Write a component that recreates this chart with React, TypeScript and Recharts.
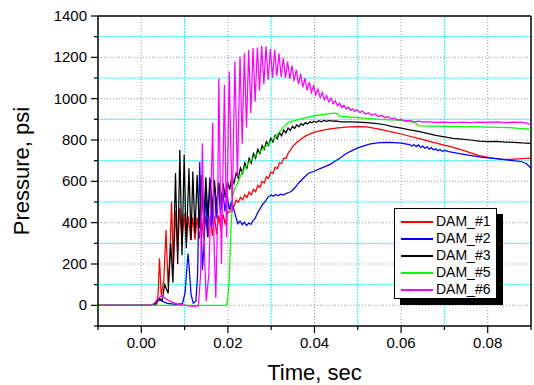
import React from 'react';
import { LineChart, Line, XAxis, YAxis, CartesianGrid, ReferenceLine, Legend } from 'recharts';

// [time sec, pressure psi]
const dam1: [number, number][] = [
  [-0.01, 0], [0.0035, 0], [0.0039, 60], [0.0042, 228], [0.0046, 50], [0.0052, 120], [0.0057, 365],
  [0.0062, 90], [0.0066, 250], [0.007, 502], [0.0074, 170], [0.0079, 455], [0.0084, 260], [0.0089, 470],
  [0.0094, 295], [0.0099, 445], [0.0104, 305], [0.0109, 430], [0.0114, 315], [0.0119, 425], [0.0124, 318],
  [0.0129, 425], [0.0134, 322], [0.0139, 428], [0.0144, 326], [0.0149, 430], [0.0154, 330], [0.0159, 432],
  [0.0164, 336], [0.0169, 432], [0.0174, 345], [0.0179, 435], [0.0184, 360], [0.0189, 440], [0.0194, 390],
  [0.0199, 452], [0.0204, 450], [0.0209, 490], [0.0214, 480], [0.0219, 510], [0.0224, 498], [0.0229, 522],
  [0.0234, 510], [0.0239, 535], [0.0244, 522], [0.0249, 548], [0.0254, 535], [0.0259, 562], [0.0264, 550],
  [0.0269, 580], [0.0274, 570], [0.0279, 600], [0.0284, 592], [0.0289, 622], [0.0294, 614], [0.0299, 645],
  [0.0304, 638], [0.0309, 668], [0.0314, 662], [0.0319, 690], [0.0324, 686], [0.0329, 712], [0.0334, 710],
  [0.034, 740], [0.0345, 752], [0.035, 770], [0.036, 790], [0.037, 806], [0.038, 820], [0.039, 830],
  [0.04, 838], [0.042, 848], [0.044, 855], [0.046, 860], [0.048, 864], [0.05, 865], [0.052, 863],
  [0.055, 853], [0.0575, 841], [0.06, 829], [0.0622, 817], [0.0645, 805], [0.0668, 792], [0.069, 780],
  [0.0714, 768], [0.074, 752], [0.0761, 738], [0.078, 724], [0.0807, 713], [0.083, 708], [0.0854, 706],
  [0.088, 710], [0.09, 712],
];

const dam2: [number, number][] = [
  [-0.01, 0], [0.0025, 0], [0.0035, 15], [0.0042, 28], [0.005, 18], [0.006, 10], [0.008, 5], [0.0095, 8],
  [0.0101, 60], [0.0106, 200], [0.0108, 250], [0.011, 200], [0.0115, 50], [0.012, 10], [0.0126, 20],
  [0.013, 150], [0.0133, 500], [0.0135, 695], [0.0137, 500], [0.0141, 171], [0.0145, 300], [0.0149, 560],
  [0.0153, 330], [0.0158, 620], [0.0163, 380], [0.0168, 610], [0.0173, 420], [0.0178, 585], [0.0183, 440],
  [0.0188, 560], [0.0193, 455], [0.0198, 540], [0.0203, 465], [0.0208, 500], [0.0213, 470], [0.0218, 430],
  [0.0223, 395], [0.0228, 408], [0.0233, 390], [0.0238, 402], [0.0243, 386], [0.0248, 398], [0.0253, 392],
  [0.0258, 410], [0.0263, 421], [0.0268, 445], [0.0275, 470], [0.028, 488], [0.0286, 502], [0.0293, 525],
  [0.03, 534], [0.0305, 528], [0.031, 536], [0.0316, 530], [0.0322, 538], [0.0328, 534], [0.0335, 542],
  [0.0341, 546], [0.0347, 552], [0.0355, 570], [0.0363, 591], [0.0374, 615], [0.0386, 639], [0.04, 650],
  [0.0417, 665], [0.0436, 682], [0.0448, 698], [0.0459, 712], [0.047, 730], [0.0482, 744], [0.05, 762],
  [0.0529, 781], [0.055, 787], [0.0575, 788], [0.06, 785], [0.062, 778], [0.0625, 770], [0.063, 778],
  [0.0635, 768], [0.064, 776], [0.0645, 764], [0.065, 771], [0.0655, 760], [0.066, 767], [0.0665, 756],
  [0.067, 763], [0.0675, 752], [0.068, 758], [0.0685, 748], [0.069, 754], [0.0695, 745], [0.07, 750],
  [0.071, 744], [0.0738, 733], [0.0784, 717], [0.083, 707], [0.0877, 696], [0.089, 685], [0.09, 663],
];

const dam3: [number, number][] = [
  [-0.01, 0], [0.003, 0], [0.0036, 15], [0.0042, 34], [0.0048, 22], [0.0054, 100], [0.0062, 58],
  [0.0068, 300], [0.0073, 110], [0.0079, 640], [0.0084, 200], [0.0089, 752], [0.0094, 243], [0.0099, 728],
  [0.0104, 276], [0.011, 663], [0.0115, 316], [0.0119, 647], [0.0124, 349], [0.0129, 631], [0.0134, 373],
  [0.0139, 630], [0.0144, 397], [0.0149, 620], [0.0154, 429], [0.0159, 610], [0.0164, 461], [0.0169, 600],
  [0.0174, 480], [0.0179, 595], [0.0184, 500], [0.0189, 590], [0.0194, 520], [0.0199, 600], [0.0204, 560],
  [0.0209, 620], [0.0214, 590], [0.0219, 640], [0.0224, 615], [0.0229, 665], [0.0234, 640], [0.0239, 690],
  [0.0244, 665], [0.0249, 712], [0.0254, 688], [0.0259, 735], [0.0264, 712], [0.0269, 755], [0.0274, 735],
  [0.0279, 773], [0.0284, 755], [0.0289, 792], [0.0294, 775], [0.0299, 808], [0.0304, 790], [0.0309, 822],
  [0.0314, 806], [0.0319, 836], [0.0324, 820], [0.0329, 848], [0.0334, 834], [0.0339, 858], [0.0344, 846],
  [0.0349, 866], [0.0354, 856], [0.0359, 873], [0.0364, 864], [0.0369, 879], [0.0374, 872], [0.0379, 884],
  [0.0384, 878], [0.0389, 888], [0.0394, 883], [0.0399, 891], [0.0404, 886], [0.041, 893], [0.0416, 888],
  [0.0422, 895], [0.0428, 890], [0.0435, 895], [0.044, 891], [0.045, 893], [0.046, 888], [0.048, 888],
  [0.05, 886], [0.052, 884], [0.054, 881], [0.056, 875], [0.058, 865], [0.06, 857], [0.062, 849],
  [0.064, 842], [0.066, 832], [0.068, 822], [0.07, 815], [0.072, 808], [0.074, 804], [0.076, 800],
  [0.078, 794], [0.08, 792], [0.082, 793], [0.084, 790], [0.086, 789], [0.088, 786], [0.09, 784],
];

const dam5: [number, number][] = [
  [-0.01, 0], [0.0195, 0], [0.0199, 15], [0.0203, 120], [0.0207, 365], [0.0211, 526], [0.0216, 565],
  [0.022, 580], [0.0232, 640], [0.0247, 688], [0.0265, 728], [0.0286, 765], [0.031, 816], [0.0325, 855],
  [0.034, 885], [0.037, 903], [0.0402, 918], [0.043, 926], [0.0445, 930], [0.0453, 928], [0.0458, 915],
  [0.048, 912], [0.05, 908], [0.055, 900], [0.06, 895], [0.0625, 887], [0.0635, 880], [0.064, 870],
  [0.0645, 868], [0.07, 866], [0.075, 865], [0.08, 862], [0.085, 860], [0.09, 852],
];

const dam6: [number, number][] = [
  [-0.01, 0], [0.002, 0], [0.003, 10], [0.0038, 30], [0.0046, 46], [0.0055, 35], [0.0065, 20], [0.008, 8],
  [0.0095, 2], [0.011, -3], [0.0125, -5], [0.0132, 0], [0.0137, 150], [0.0141, 784], [0.0145, 300],
  [0.015, 20], [0.0156, 150], [0.0165, 883], [0.0168, 300], [0.0172, 35], [0.0176, 400], [0.0179, 1099],
  [0.0185, 200], [0.0192, 1067], [0.0197, 330], [0.0203, 1131], [0.021, 450], [0.0216, 1180], [0.0222, 620],
  [0.0228, 1204], [0.0233, 780], [0.0238, 1220], [0.0243, 860], [0.0248, 1236], [0.0253, 930], [0.0258, 1245],
  [0.0263, 985], [0.0268, 1248], [0.0273, 1040], [0.0278, 1256], [0.0283, 1070], [0.0288, 1253], [0.0293, 1090],
  [0.0298, 1240], [0.0303, 1100], [0.0308, 1236], [0.0313, 1110], [0.0318, 1220], [0.0323, 1105], [0.0328, 1196],
  [0.0333, 1100], [0.0338, 1180], [0.0343, 1095], [0.0348, 1160], [0.0353, 1085], [0.0358, 1140], [0.0363, 1070],
  [0.0368, 1120], [0.0373, 1055], [0.0378, 1100], [0.0383, 1040], [0.0388, 1080], [0.0393, 1030], [0.0398, 1062],
  [0.0403, 1018], [0.0408, 1045], [0.0413, 1005], [0.0418, 1030], [0.0423, 995], [0.0428, 1015], [0.0433, 985],
  [0.0438, 1002], [0.0443, 975], [0.0448, 990], [0.0453, 965], [0.0458, 978], [0.0463, 957], [0.0468, 968],
  [0.0473, 950], [0.0478, 960], [0.0483, 944], [0.0488, 952], [0.0493, 938], [0.0498, 946], [0.0505, 932],
  [0.051, 940], [0.0518, 926], [0.0525, 932], [0.0532, 920], [0.054, 926], [0.0548, 914], [0.0555, 920],
  [0.0563, 908], [0.057, 913], [0.0578, 902], [0.0585, 906], [0.0593, 896], [0.06, 900], [0.061, 892],
  [0.062, 895], [0.063, 888], [0.064, 891], [0.065, 886], [0.066, 889], [0.068, 885], [0.07, 887],
  [0.072, 884], [0.074, 887], [0.076, 884], [0.078, 887], [0.08, 885], [0.082, 888], [0.084, 884],
  [0.086, 887], [0.088, 885], [0.089, 882], [0.09, 872],
];

const seriesNames = ['DAM_#1', 'DAM_#2', 'DAM_#3', 'DAM_#5', 'DAM_#6'];
const seriesColors = ['#ff0000', '#0000ff', '#000000', '#00ff00', '#ff00ff'];
const seriesData = [dam1, dam2, dam3, dam5, dam6];

const xTicks = [-0.01, 0, 0.01, 0.02, 0.03, 0.04, 0.05, 0.06, 0.07, 0.08, 0.09];
const xLabelled = [0, 0.02, 0.04, 0.06, 0.08];
const yTicks = [-100, 0, 100, 200, 300, 400, 500, 600, 700, 800, 900, 1000, 1100, 1200, 1300, 1400];
const yLabelled = [0, 200, 400, 600, 800, 1000, 1200, 1400];
const xMajorGrid = [0, 0.02, 0.04, 0.06, 0.08];
const xMinorGrid = [0.01, 0.03, 0.05, 0.07];
const yMajorGrid = [0, 200, 400, 600, 800, 1000, 1200];
const yMinorGrid = [100, 300, 500, 700, 900, 1100, 1300];

const FONT = '"Liberation Sans", Arial, sans-serif';

const near = (list: number[], v: number) => list.some(a => Math.abs(a - v) < 1e-6);

function XTick({ x, y, payload }: any) {
  const major = near(xLabelled, payload.value);
  return (
    <g>
      <line x1={x} x2={x} y1={y} y2={y + (major ? 7 : 4)} stroke="#000" strokeWidth={1.2} />
      {major && (
        <text x={x} y={y + 22} textAnchor="middle" fontSize={15} fontFamily={FONT} fill="#000">
          {payload.value.toFixed(2)}
        </text>
      )}
    </g>
  );
}

function YTick({ x, y, payload }: any) {
  const major = near(yLabelled, payload.value);
  return (
    <g>
      <line x1={x} x2={x - (major ? 7 : 4)} y1={y} y2={y} stroke="#000" strokeWidth={1.2} />
      {major && (
        <text x={x - 11} y={y + 5} textAnchor="end" fontSize={15} fontFamily={FONT} fill="#000">
          {payload.value}
        </text>
      )}
    </g>
  );
}

function LegendBox() {
  return (
    <div style={{ position: 'relative', width: 101, height: 89, border: '1px solid #000', background: '#fff', boxShadow: '6px 6px 0 #000', fontFamily: FONT }}>
      {seriesNames.map((name, i) => (
        <div key={name} style={{ position: 'absolute', left: 0, top: 4 + i * 17, height: 17, width: 101 }}>
          <div style={{ position: 'absolute', left: 6, top: 8, width: 32, height: 1.5, background: seriesColors[i] }} />
          <div style={{ position: 'absolute', left: 41, top: 0, fontSize: 14, lineHeight: '17px', color: '#000', whiteSpace: 'nowrap' }}>{name}</div>
        </div>
      ))}
    </div>
  );
}

export default function App() {
  return (
    <div style={{ position: 'absolute', left: 0, top: 0, background: '#fff' }}>
      <LineChart width={534} height={385} margin={{ top: 16, right: 3, bottom: 0, left: 0 }}>
        <CartesianGrid horizontal vertical horizontalValues={yMajorGrid} verticalValues={xMajorGrid} stroke="#999" strokeDasharray="1 2" />
        <CartesianGrid horizontal vertical horizontalValues={yMinorGrid} verticalValues={xMinorGrid} stroke="#00ffff" strokeDasharray="2 1" />
        <XAxis
          dataKey="t"
          type="number"
          domain={[-0.01, 0.09]}
          ticks={xTicks}
          interval={0}
          height={59}
          tickSize={0}
          tickMargin={0}
          tickLine={false}
          tick={<XTick />}
          axisLine={{ stroke: '#000', strokeWidth: 1.5 }}
          allowDataOverflow
          label={{
            content: ({ viewBox }: any) => (
              <text x={viewBox.x + viewBox.width / 2} y={viewBox.y + 54} textAnchor="middle" fontSize={22} fontFamily={FONT} fill="#000">
                Time, sec
              </text>
            ),
          }}
        />
        <YAxis
          type="number"
          domain={[-100, 1400]}
          ticks={yTicks}
          interval={0}
          width={98}
          tickSize={0}
          tickMargin={0}
          tickLine={false}
          tick={<YTick />}
          axisLine={{ stroke: '#000', strokeWidth: 1.5 }}
          allowDataOverflow
          label={{
            content: ({ viewBox }: any) => {
              const cx = viewBox.x + 21;
              const cy = viewBox.y + viewBox.height / 2;
              return (
                <text x={cx} y={cy} transform={`rotate(-90 ${cx} ${cy})`} textAnchor="middle" dominantBaseline="central" fontSize={22} fontFamily={FONT} fill="#000">
                  Pressure, psi
                </text>
              );
            },
          }}
        />
        <ReferenceLine y={1400} stroke="#000" strokeWidth={1.5} />
        <ReferenceLine x={0.09} stroke="#000" strokeWidth={1.5} />
        {seriesData.map((rows, i) => (
          <Line
            key={seriesNames[i]}
            name={seriesNames[i]}
            data={rows.map(([t, p]) => ({ t, p }))}
            dataKey="p"
            type="linear"
            stroke={seriesColors[i]}
            strokeWidth={1.25}
            dot={false}
            activeDot={false}
            isAnimationActive={false}
          />
        ))}
        <Legend
          layout="vertical"
          align="center"
          verticalAlign="middle"
          wrapperStyle={{ left: 394, top: 208, width: 103, height: 91 }}
          content={() => <LegendBox />}
        />
      </LineChart>
    </div>
  );
}
